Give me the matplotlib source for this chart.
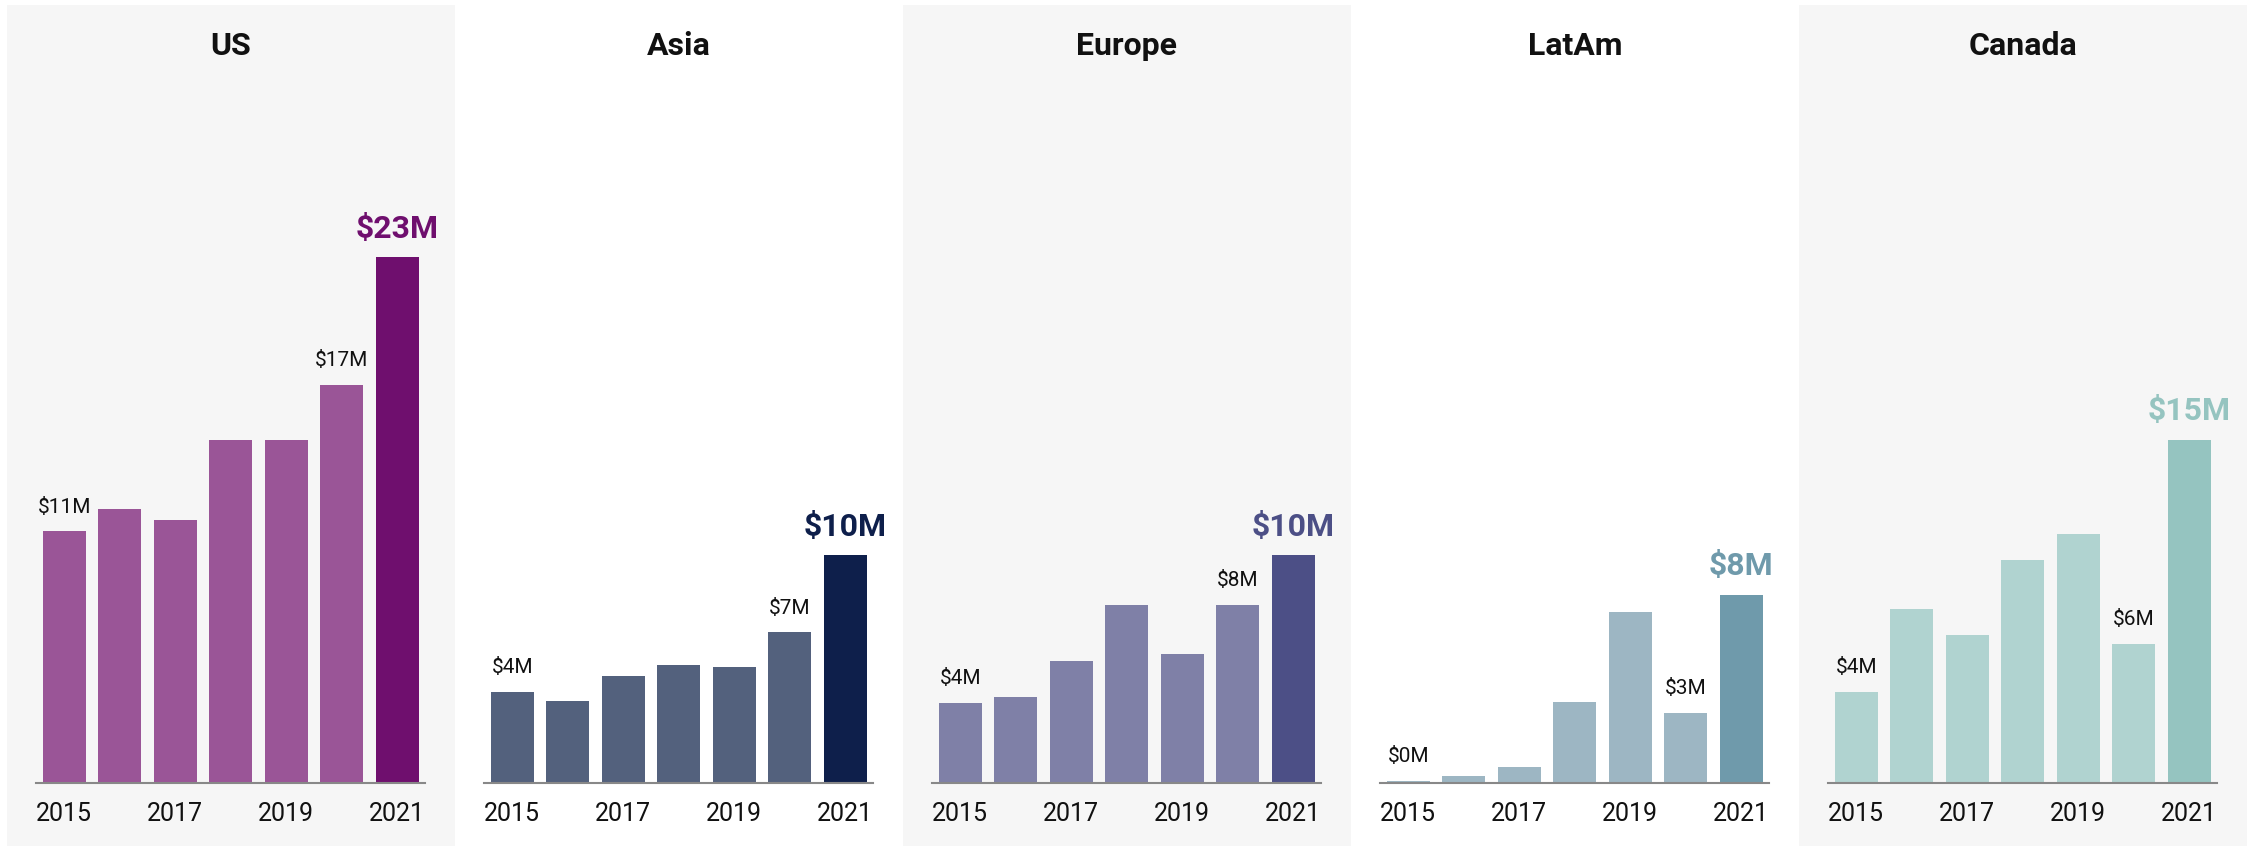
import matplotlib.pyplot as plt
from matplotlib.patches import Rectangle
import numpy as np

plt.rcParams['font.family'] = ['Roboto', 'DejaVu Sans']

# Data (millions of dollars)
years = [2015, 2016, 2017, 2018, 2019, 2020, 2021]
tick_years = [2015, 2017, 2019, 2021]
regions = ['US', 'Asia', 'Europe', 'LatAm', 'Canada']

us_values = [11.0, 12.0, 11.5, 15.0, 15.0, 17.4, 23.0]
asia_values = [3.97, 3.57, 4.67, 5.15, 5.06, 6.59, 9.96]
europe_values = [3.5, 3.77, 5.35, 7.8, 5.65, 7.8, 9.97]
latam_values = [0.1, 0.32, 0.71, 3.56, 7.49, 3.07, 8.23]
canada_values = [3.99, 7.62, 6.49, 9.77, 10.9, 6.09, 15.01]

# which bars get a value label (first, second to last, last)
label_idx = [0, 5, 6]

base_colors = ['#9a5597', '#53617d', '#7f80a7', '#9db6c3', '#b0d3d0']
accent_colors = ['#6f0f6e', '#0e1f4b', '#4c4f86', '#6f9aab', '#95c4c0']

W, H = 2252, 846
fig = plt.figure(figsize=(W / 100, H / 100), dpi=100)
fig.patch.set_facecolor('white')

panel_w = 448
panel_x0 = 7
base_y = 783      # pixel row of the baseline
px_per_m = 22.87  # pixels per million
ax_top = 60

all_values = [us_values, asia_values, europe_values, latam_values, canada_values]

for i, (name, vals) in enumerate(zip(regions, all_values)):
    left = panel_x0 + panel_w * i
    if i % 2 == 0:
        # grey background band behind every other panel
        fig.patches.append(Rectangle((left / W, 0), panel_w / W, (H - 5) / H,
                                     transform=fig.transFigure,
                                     facecolor='#f6f6f6', edgecolor='none', zorder=-1))

    ax = fig.add_axes([(left + 29) / W, (H - base_y) / H, 389 / W, (base_y - ax_top) / H])
    ax.set_facecolor('none')
    ax.set_zorder(2)

    x = np.arange(len(years))
    colors = [base_colors[i]] * (len(years) - 1) + [accent_colors[i]]
    ax.bar(x, vals, width=0.775, color=colors, zorder=2)

    ax.set_xlim(-0.51, 6.50)
    ax.set_ylim(0, (base_y - ax_top) / px_per_m)

    for s in ['top', 'right', 'left']:
        ax.spines[s].set_visible(False)
    ax.spines['bottom'].set_color('#888888')
    ax.spines['bottom'].set_linewidth(1.5)
    ax.spines['bottom'].set_zorder(3)

    ax.set_yticks([])
    ax.set_xticks([years.index(y) for y in tick_years])
    ax.set_xticklabels([str(y) for y in tick_years])
    ax.tick_params(axis='x', length=0, pad=14, labelsize=18, labelcolor='#111111')

    for j in label_idx:
        v = vals[j]
        txt = f"${int(np.floor(v + 0.5))}M"
        if j == len(years) - 1:
            ax.annotate(txt, (j, v), xytext=(0, 14), textcoords='offset points',
                        ha='center', va='baseline', fontsize=23, fontweight='bold',
                        color=accent_colors[i], annotation_clip=False)
        else:
            ax.annotate(txt, (j, v), xytext=(0, 13.5), textcoords='offset points',
                        ha='center', va='baseline', fontsize=15,
                        color='#111111', annotation_clip=False)

    fig.text((left + panel_w / 2) / W, 1 - 55 / H, name, ha='center', va='baseline',
             fontsize=23, fontweight='bold', color='#111111', zorder=3)

fig.savefig('out.png', dpi=100)
